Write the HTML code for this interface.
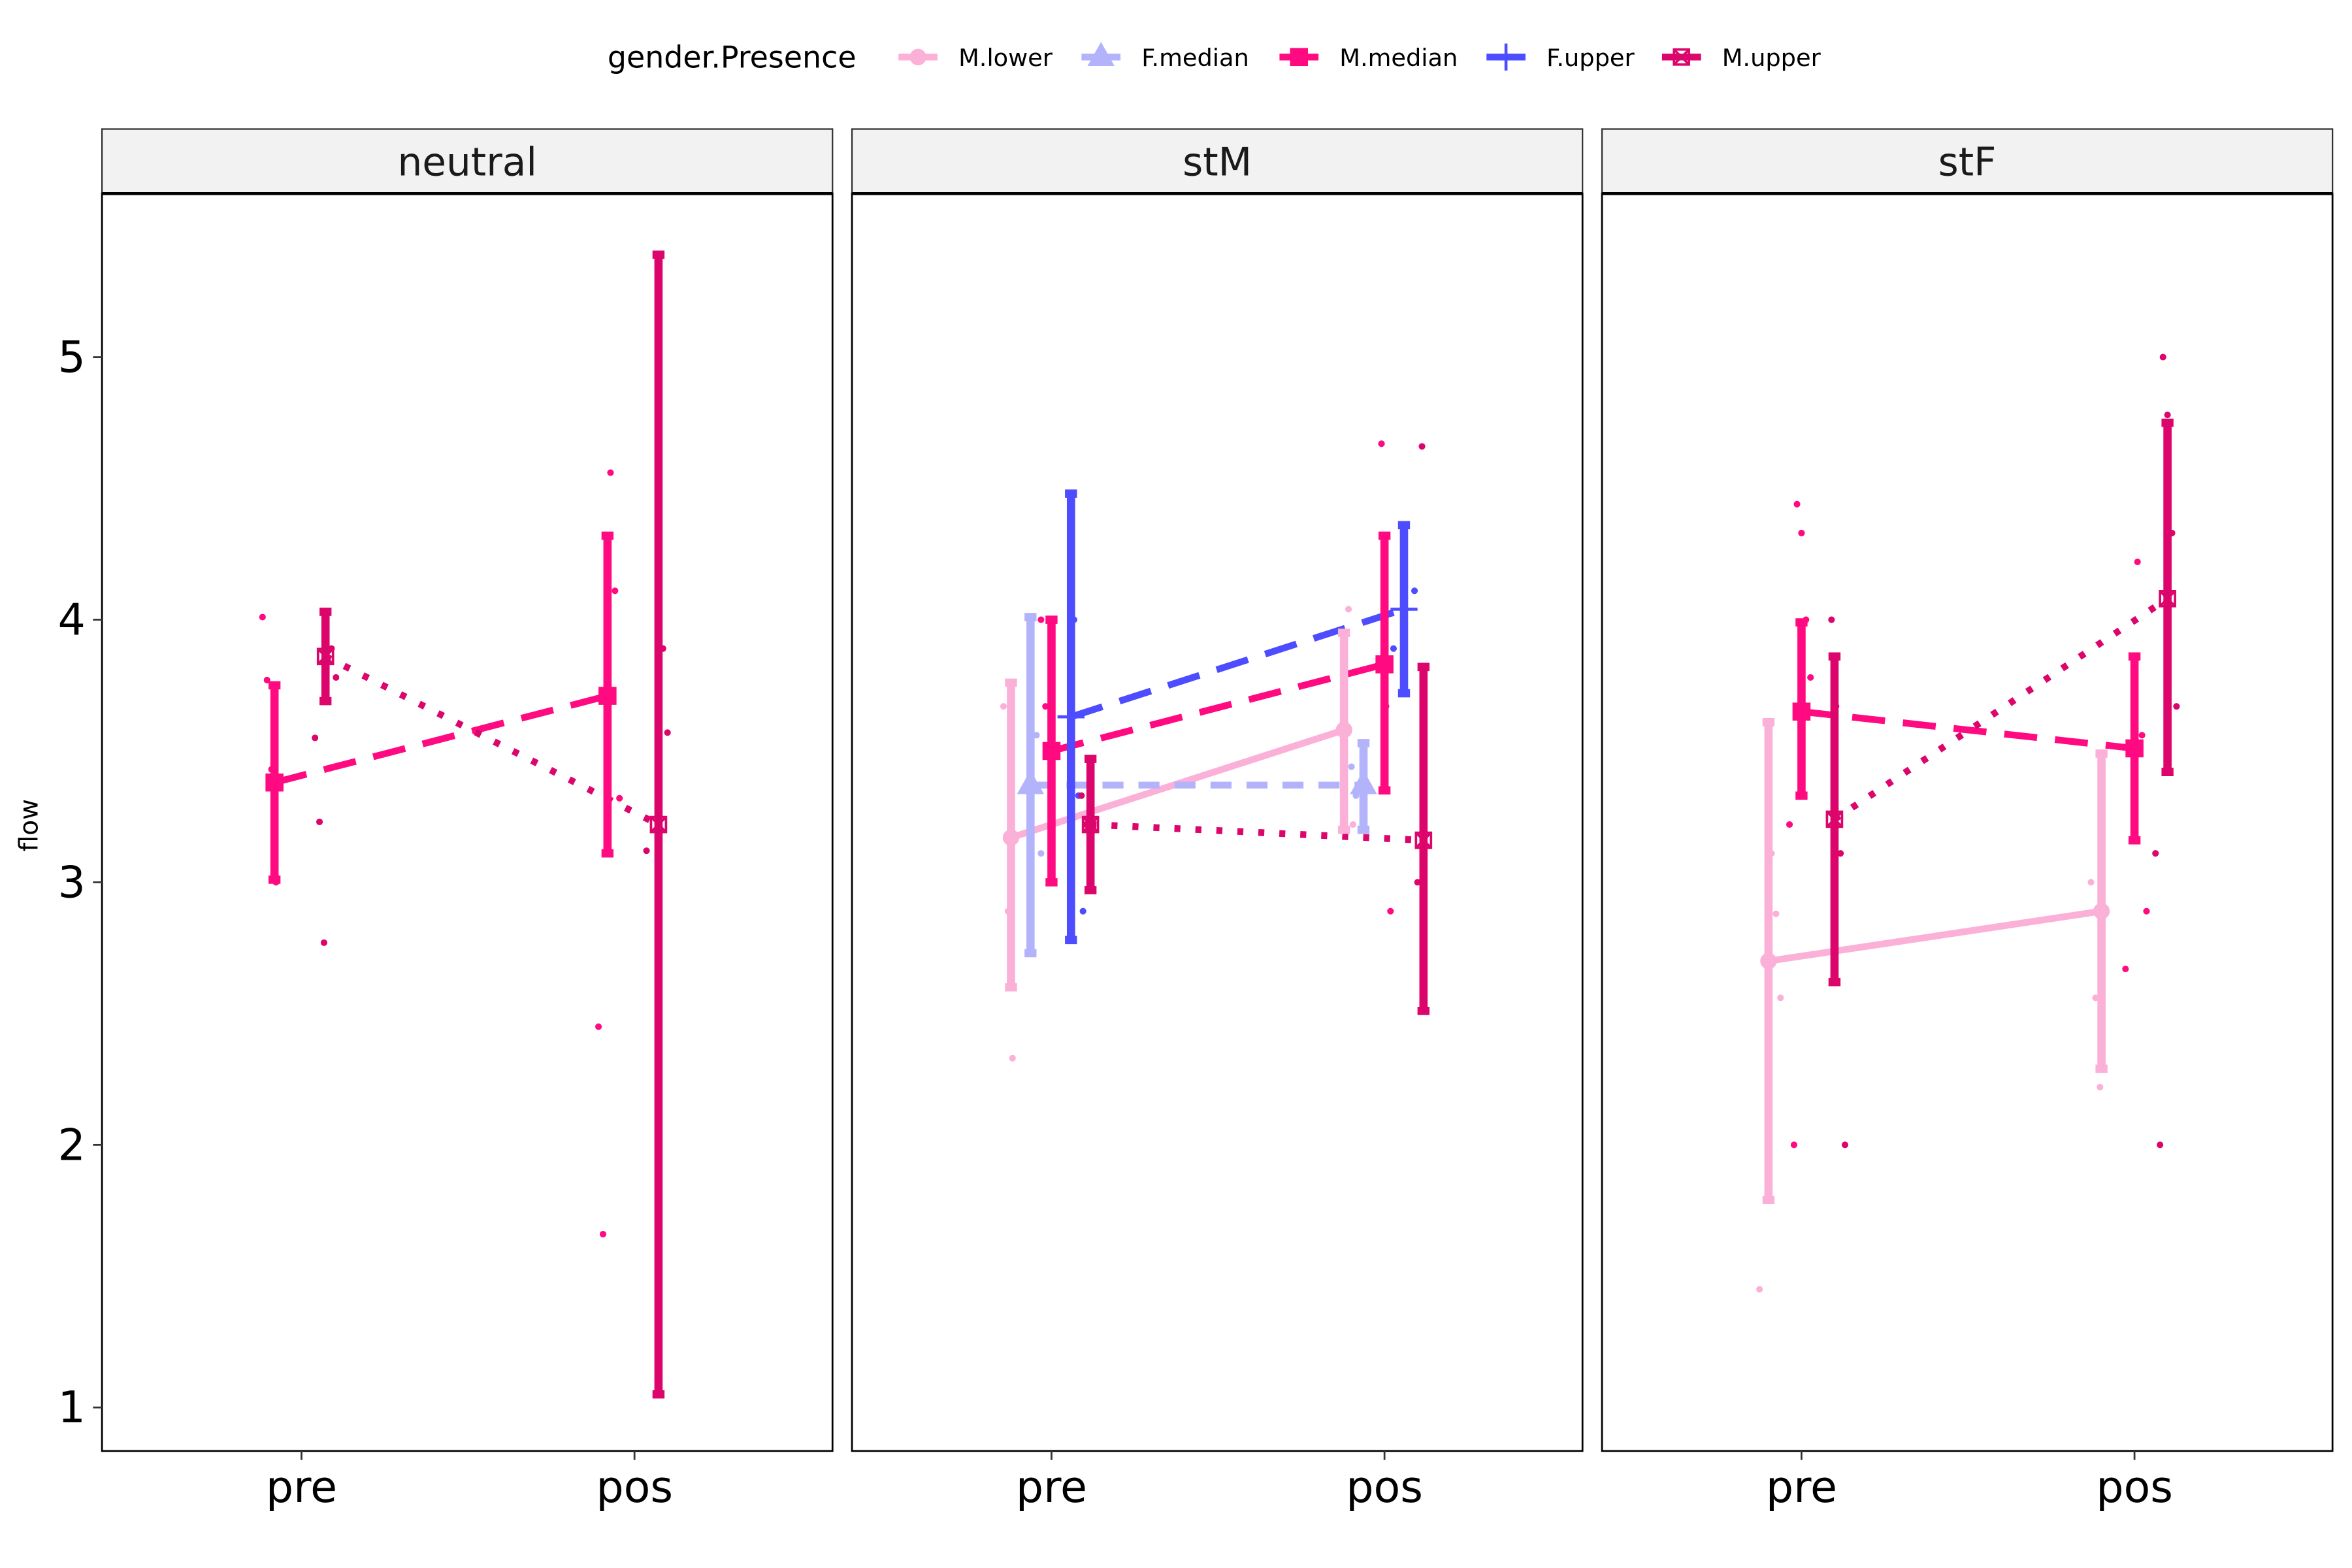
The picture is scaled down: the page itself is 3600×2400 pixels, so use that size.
<!DOCTYPE html>
<html><head><meta charset="utf-8"><style>
html,body{margin:0;padding:0;background:#fff}
svg{display:block;font-family:"DejaVu Sans","Liberation Sans",sans-serif}
</style></head><body>
<svg id="chart" width="3600" height="2400" viewBox="0 0 1568 1045" preserveAspectRatio="none" xmlns="http://www.w3.org/2000/svg">
<rect width="1568" height="1045" fill="#fff"/>
<g id="legend">
<text x="405" y="45" font-size="20" fill="#000">gender.Presence</text>
</g>
<g id="panels"></g>
<text transform="translate(25,550) rotate(-90)" text-anchor="middle" font-size="17" fill="#000">flow</text>
</svg>
<script>
const seriesNames = ["M.lower","F.median","M.median","F.upper","M.upper"];
const seriesColors = ["#fbb0d8","#b3b3fb","#ff0a80","#4d4dff","#db056b"];
const seriesDash = ["", "14,10", "22,12", "22,12", "4,10"];
const panelNames = ["neutral","stM","stF"];
const times = ["pre","pos"];
const yTicks = [1,2,3,4,5];
// [panel, series, time, mean, lo, hi]
const means = [
 [0,2,0,3.38,3.01,3.75],[0,2,1,3.71,3.11,4.32],
 [0,4,0,3.86,3.69,4.03],[0,4,1,3.22,1.05,5.39],
 [1,0,0,3.17,2.60,3.76],[1,0,1,3.58,3.20,3.95],
 [1,1,0,3.37,2.73,4.01],[1,1,1,3.37,3.20,3.53],
 [1,2,0,3.50,3.00,4.00],[1,2,1,3.83,3.35,4.32],
 [1,3,0,3.63,2.78,4.48],[1,3,1,4.04,3.72,4.36],
 [1,4,0,3.22,2.97,3.47],[1,4,1,3.16,2.51,3.82],
 [2,0,0,2.70,1.79,3.61],[2,0,1,2.89,2.29,3.49],
 [2,2,0,3.65,3.33,3.99],[2,2,1,3.51,3.16,3.86],
 [2,4,0,3.24,2.62,3.86],[2,4,1,4.08,3.42,4.75]
];
// raw points [panel, series, time, value]
const raw = [
 [0,2,0,4.01],[0,2,0,3.77],[0,2,0,3.43],[0,2,0,3.0],[0,4,0,3.89],[0,4,0,3.78],[0,4,0,3.55],[0,4,0,3.23],[0,4,0,2.77],
 [0,2,1,4.56],[0,2,1,4.11],[0,2,1,3.32],[0,2,1,2.45],[0,2,1,1.66],[0,4,1,5.0],[0,4,1,3.89],[0,4,1,3.57],[0,4,1,3.12],
 [1,0,0,3.67],[1,0,0,2.89],[1,0,0,2.33],[1,1,0,3.56],[1,1,0,3.11],[1,2,0,4.0],[1,2,0,3.67],[1,2,0,3.22],[1,3,0,4.0],[1,3,0,3.33],[1,3,0,2.89],[1,4,0,3.33],[1,4,0,3.22],
 [1,0,1,3.67],[1,0,1,4.04],[1,0,1,3.22],[1,1,1,3.44],[1,1,1,3.33],[1,2,1,4.67],[1,2,1,3.67],[1,2,1,2.89],[1,3,1,4.11],[1,3,1,3.89],[1,4,1,3.0],[1,4,1,4.66],
 [2,0,0,3.11],[2,0,0,2.88],[2,0,0,2.56],[2,0,0,1.45],[2,2,0,4.44],[2,2,0,4.33],[2,2,0,4.0],[2,2,0,3.78],[2,2,0,3.22],[2,2,0,2.0],[2,4,0,4.0],[2,4,0,3.67],[2,4,0,3.11],[2,4,0,2.0],
 [2,0,1,3.0],[2,0,1,2.56],[2,0,1,2.22],[2,2,1,4.22],[2,2,1,3.56],[2,2,1,2.89],[2,2,1,2.67],[2,4,1,5.0],[2,4,1,4.78],[2,4,1,4.33],[2,4,1,3.67],[2,4,1,3.11],[2,4,1,2.0]
];
const NS="http://www.w3.org/2000/svg";
const G=document.getElementById('panels');
const PL=[68,568,1068], PW=487, PT=129, PB=967;
const dodge=[{2:-18,4:16},{0:-27,1:-14,2:0,3:13,4:26},{0:-22,2:0,4:22}];
function y(v){return 938-(v-1)*175;}
function xc(p,t){return PL[p]+133+t*222;}
function xs(p,s,t){return xc(p,t)+dodge[p][s];}
function el(tag,attrs,parent){const e=document.createElementNS(NS,tag);for(const k in attrs)e.setAttribute(k,attrs[k]);(parent||G).appendChild(e);return e;}
function marker(s,cx,cy,parent){
 const c=seriesColors[s];let m;
 if(s===0)m=el('circle',{cx:cx,cy:cy,r:5.5,fill:c},parent);
 else if(s===1)m=el('polygon',{points:`${cx-9},${cy+6} ${cx+9},${cy+6} ${cx},${cy-10}`,fill:c},parent);
 else if(s===2)m=el('rect',{x:cx-6,y:cy-6,width:12,height:12,fill:c},parent);
 else if(s===3)m=el('path',{d:`M${cx-9},${cy}H${cx+9}M${cx},${cy-9}V${cy+9}`,stroke:c,'stroke-width':2},parent);
 else m=el('path',{d:`M${cx-5},${cy-5}h10v10h-10zM${cx-5},${cy-5}l10,10M${cx+5},${cy-5}l-10,10`,stroke:c,'stroke-width':1.6,fill:'none'},parent);
 return m;
}
for(let p=0;p<3;p++){
 const g=el('g',{});
 
 
 const strip=el('rect',{x:PL[p],y:86,width:PW,height:43,fill:'#f2f2f2',stroke:'#333','stroke-width':1},g);
 
 
 el('line',{x1:PL[p],x2:PL[p]+PW,y1:129,y2:129,stroke:'#000','stroke-width':2},g);
 const st=el('text',{x:PL[p]+PW/2,y:117,'text-anchor':'middle','font-size':26,fill:'#1a1a1a'},g);
 st.textContent=panelNames[p];
 
 
 const frame=el('rect',{x:PL[p],y:PT,width:PW,height:PB-PT,fill:'none',stroke:'#000','stroke-width':1.2},g);
 
 
 for(let t=0;t<2;t++){
  el('line',{x1:xc(p,t),x2:xc(p,t),y1:PB,y2:PB+6,stroke:'#333','stroke-width':1.2},g);
  const tl=el('text',{x:xc(p,t),y:1001,'text-anchor':'middle','font-size':29,fill:'#000'},g);
  tl.textContent=times[t];
  
  
 }
 raw.forEach((r,i)=>{ if(r[0]!==p)return;
  const jit=((i*37)%17-8);
  const d=el('circle',{cx:xs(p,r[1],r[2])+jit,cy:y(r[3]),r:2.2,fill:seriesColors[r[1]]},g);
  
  
 });
 for(let s=0;s<5;s++){
  const pts=means.filter(m=>m[0]===p&&m[1]===s).sort((a,b)=>a[2]-b[2]);
  if(pts.length<2)continue;
  const ln=el('line',{x1:xs(p,s,0),y1:y(pts[0][3]),x2:xs(p,s,1),y2:y(pts[1][3]),stroke:seriesColors[s],'stroke-width':4.5,'stroke-dasharray':seriesDash[s]},g);
  
  
 }
 means.forEach(m=>{ if(m[0]!==p)return;
  const s=m[1],x=xs(p,s,m[2]),c=seriesColors[s];
  const eb=el('path',{d:`M${x},${y(m[4])}V${y(m[5])}M${x-4},${y(m[4])}H${x+4}M${x-4},${y(m[5])}H${x+4}`,stroke:c,'stroke-width':5.5,fill:'none'},g);
  
  
  const mk=marker(s,x,y(m[3]),g);
  
  
 });
}
yTicks.forEach(v=>{
 el('line',{x1:62,x2:68,y1:y(v),y2:y(v),stroke:'#333','stroke-width':1.2});
 const t=el('text',{x:57,y:y(v)+10,'text-anchor':'end','font-size':29,fill:'#000'});
 t.textContent=v;
 
 
});
const lg=document.getElementById('legend');
const lx=[599,721,853,991,1108];
seriesNames.forEach((n,s)=>{
 const it=el('g',{},lg);
 
 
 el('line',{x1:lx[s],x2:lx[s]+26,y1:38,y2:38,stroke:seriesColors[s],'stroke-width':4.5},it);
 marker(s,lx[s]+13,38,it);
 const t=el('text',{x:lx[s]+40,y:44,'font-size':16,fill:'#000'},it);
 t.textContent=n;
});
</script>
</body></html>
